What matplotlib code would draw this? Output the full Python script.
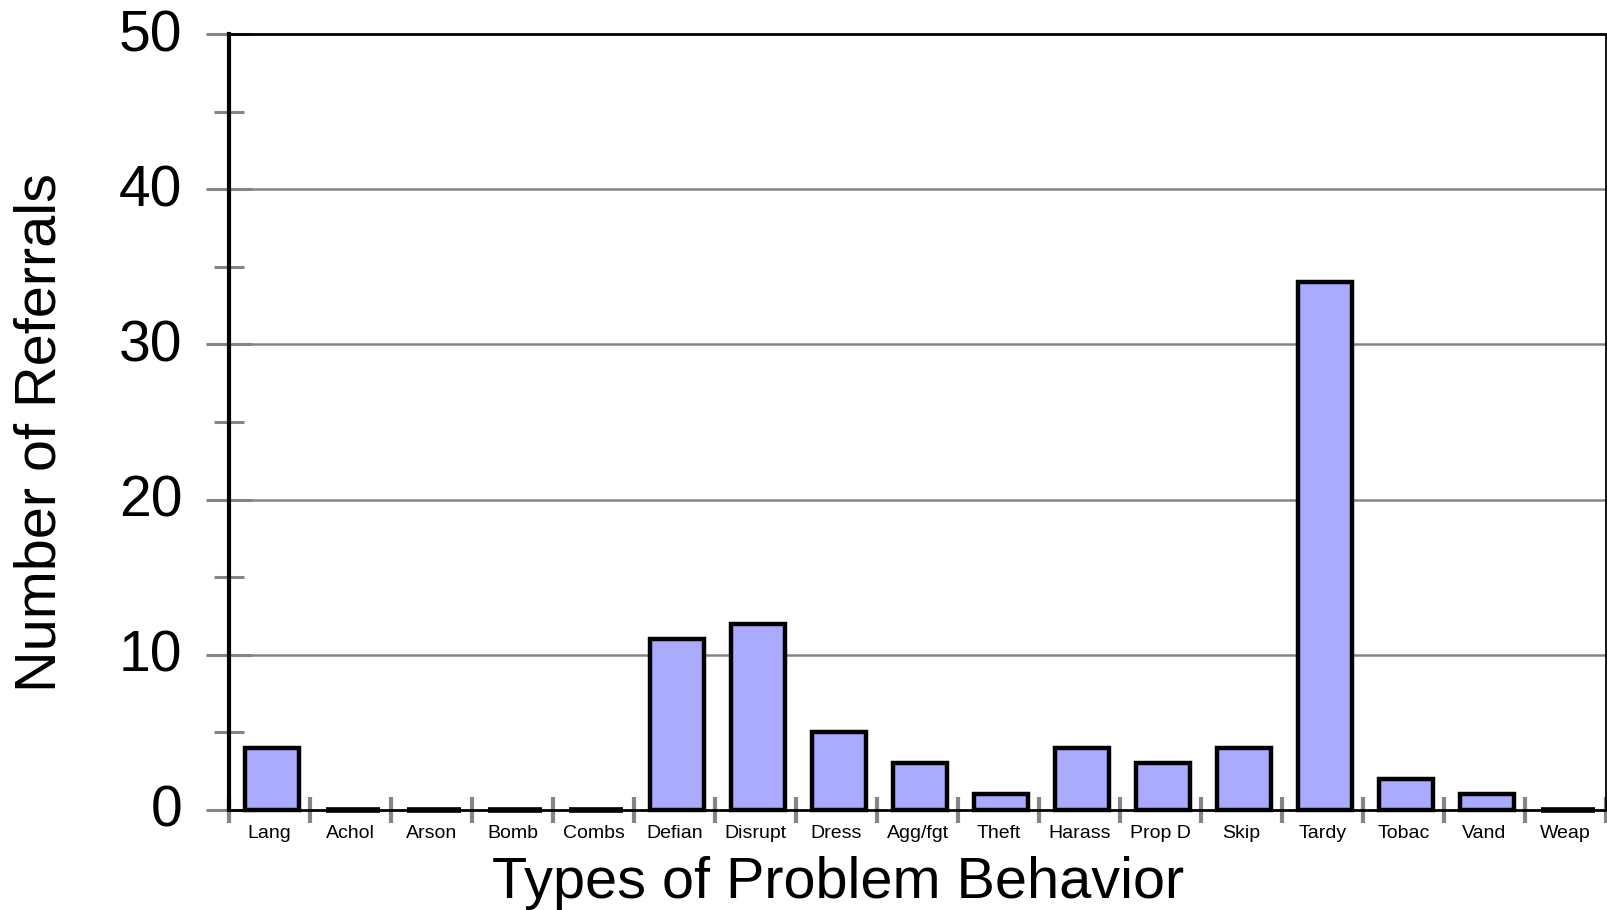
import matplotlib
matplotlib.use("Agg")
import matplotlib.pyplot as plt
import matplotlib.transforms as mtransforms
import numpy as np

# data
categories = ["Lang", "Achol", "Arson", "Bomb", "Combs", "Defian", "Disrupt", "Dress",
              "Agg/fgt", "Theft", "Harass", "Prop D", "Skip", "Tardy", "Tobac", "Vand", "Weap"]
referrals = [4, 0, 0, 0, 0, 11, 12, 5, 3, 1, 4, 3, 4, 34, 2, 1, 0]
y_ticks = [0, 10, 20, 30, 40, 50]

plt.rcParams['font.family'] = ['Liberation Sans', 'DejaVu Sans']

fig = plt.figure(figsize=(16.08, 9.10), dpi=100)
ax = fig.add_axes([0.1424, 0.110, 0.8564, 0.8526])

x = np.arange(len(categories))
bar_w = 0.67
offs = 0.03

# gridlines first, under the bars
for v in y_ticks[1:-1]:
    ax.axhline(v, color="#858585", lw=1.8, zorder=1)

bars = ax.bar(x + offs, referrals, width=bar_w, color="#aaaaff", edgecolor="black",
              linewidth=3.2, zorder=3)
for b in bars:
    b.set_clip_on(False)

# empty categories show up as a thick black dash on the baseline
vals = np.array(referrals)
zero_x = x[vals == 0] + offs
ax.hlines(np.zeros(len(zero_x)), zero_x - bar_w / 2, zero_x + bar_w / 2,
          colors="black", linewidth=4, zorder=5, clip_on=False)

ax.set_xlim(-0.5, len(categories) - 0.5)
ax.set_ylim(0, 50)

# y axis ticks
ax.set_yticks(y_ticks)
ax.set_yticks(np.arange(5, 50, 10), minor=True)
ax.tick_params(axis="y", which="major", direction="inout", length=33, width=2.2,
               color="#858585", labelsize=41, pad=17)
ax.tick_params(axis="y", which="minor", direction="inout", length=22, width=2.2,
               color="#858585")
shift = mtransforms.ScaledTranslation(0, 4 / 100, fig.dpi_scale_trans)
for lab in ax.get_yticklabels():
    lab.set_transform(lab.get_transform() + shift)

# x axis: ticks on the boundaries, labels in the middle
ax.set_xticks(np.arange(-0.5, len(categories), 1.0))
ax.set_xticklabels([])
ax.set_xticks(x, minor=True)
ax.set_xticklabels(categories, minor=True)
ax.tick_params(axis="x", which="major", direction="inout", length=19, width=3,
               color="#858585")
ax.tick_params(axis="x", which="minor", length=0, labelsize=14, pad=11)

for s, w in [("left", 3), ("top", 2), ("right", 1.3), ("bottom", 2)]:
    ax.spines[s].set_linewidth(w)
    ax.spines[s].set_color("black")
ax.spines["left"].set_zorder(4)

ax.set_xlabel("Types of Problem Behavior", fontsize=41.5)
ax.xaxis.set_label_coords(0.442, -0.094)
ax.xaxis.label.set_va("center")
ax.set_ylabel("Number of Referrals", fontsize=41.5)
ax.yaxis.set_label_coords(-0.137, 0.487)
ax.yaxis.label.set_va("center")

fig.savefig("out.png", dpi=100)
